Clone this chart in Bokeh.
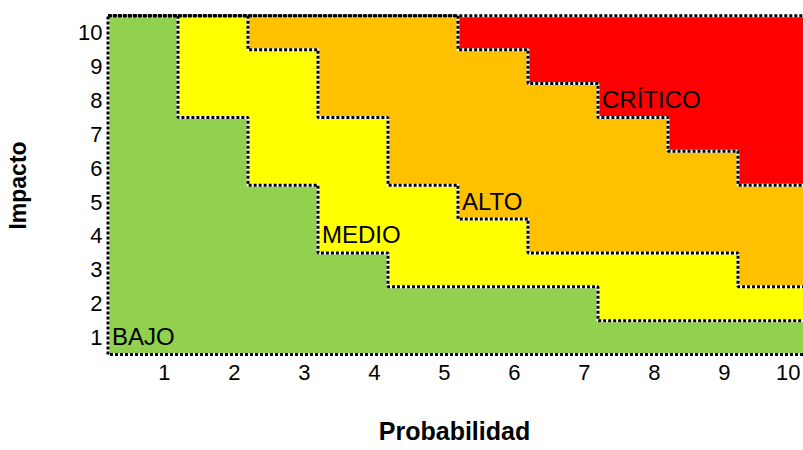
from bokeh.plotting import figure
from bokeh.models import ColumnDataSource, FixedTicker, Range1d
from bokeh.core.properties import value
from bokeh.embed import file_html
from bokeh.resources import INLINE

# ---- data ----
probabilidad = [1, 2, 3, 4, 5, 6, 7, 8, 9, 10]
impacto = [1, 2, 3, 4, 5, 6, 7, 8, 9, 10]
x_tick_labels = ["1", "2", "3", "4", "5", "6", "7", "8", "9", "10"]
y_tick_labels = ["1", "2", "3", "4", "5", "6", "7", "8", "9", "10"]
# highest impact row belonging to each level, per probability column
bajo_top = [10, 7, 5, 3, 2, 2, 2, 1, 1, 1]
medio_top = [10, 10, 9, 7, 5, 4, 3, 3, 3, 2]
alto_top = [10, 10, 10, 10, 10, 9, 8, 7, 6, 5]
niveles = ["BAJO", "MEDIO", "ALTO", "CRÍTICO"]
colores = ["#92D050", "#FFFF00", "#FFC000", "#FF0000"]
nivel_prob = [1, 4, 6, 8]      # column where each level's name is written
nivel_imp = [1, 4, 5, 8]       # row where each level's name is written

# ---- cells ----
cx, cy, cc = [], [], []
for i, p_ in enumerate(probabilidad):
    for r in impacto:
        if r <= bajo_top[i]:
            lvl = 0
        elif r <= medio_top[i]:
            lvl = 1
        elif r <= alto_top[i]:
            lvl = 2
        else:
            lvl = 3
        cx.append(p_)
        cy.append(r)
        cc.append(colores[lvl])
cells = ColumnDataSource(dict(x=cx, y=cy, color=cc))

PX_X = 70.0
PX_Y = 33.87
x0 = 0.5 - 2.5 / PX_X
x1 = x0 + 698 / PX_X
y0 = 0.5 - 3 / PX_Y
y1 = y0 + 344 / PX_Y

p = figure(width=803, height=450, output_backend="svg", toolbar_location=None,
           x_range=Range1d(x0, x1), y_range=Range1d(y0, y1),
           min_border_left=105, min_border_right=0, min_border_top=13,
           min_border_bottom=93)
p.outline_line_color = None
p.xgrid.visible = False
p.ygrid.visible = False
p.background_fill_color = "white"

p.rect(x="x", y="y", width=1, height=1, source=cells,
       fill_color="color", line_color="color", line_width=1)

# staircase boundaries
def stair(tops):
    xs, ys = [], []
    for i, p_ in enumerate(probabilidad):
        xs += [p_ - 0.5, p_ + 0.5]
        ys += [tops[i] + 0.5, tops[i] + 0.5]
    return xs, ys

paths_x, paths_y = [], []
for tops in (bajo_top, medio_top, alto_top):
    a, b = stair(tops)
    paths_x.append(a)
    paths_y.append(b)
lo, hi = probabilidad[0] - 0.5, probabilidad[-1] + 0.5
ilo, ihi = impacto[0] - 0.5, impacto[-1] + 0.5
paths_x.append([hi, lo, lo, hi])
paths_y.append([ilo, ilo, ihi, ihi])

p.multi_line(xs=paths_x, ys=paths_y, line_color="white", line_width=3)
p.multi_line(xs=paths_x, ys=paths_y, line_color="black", line_width=3,
             line_dash="3 2")

# level names
p.text(x=[v - 0.5 for v in nivel_prob], y=nivel_imp, text=niveles,
       text_font=value("Liberation Sans"), text_font_size="24px",
       text_color="black", text_baseline="middle", text_align="left",
       x_offset=4, y_offset=-1)

# axes
digit_w = 12.2
x_ticks = [v + 0.393 - len(s) * digit_w / 2 / PX_X for v, s in zip(probabilidad, x_tick_labels)]
p.xaxis.ticker = FixedTicker(ticks=x_ticks)
p.xaxis.major_label_overrides = {t: s for t, s in zip(x_ticks, x_tick_labels)}
p.yaxis.ticker = FixedTicker(ticks=impacto)
p.yaxis.major_label_overrides = {t: s for t, s in zip(impacto, y_tick_labels)}

for ax in (p.xaxis, p.yaxis):
    ax.axis_line_color = None
    ax.major_tick_line_color = None
    ax.minor_tick_line_color = None
    ax.major_tick_out = 0
    ax.major_tick_in = 0
    ax.major_label_text_font = "Liberation Sans"
    ax.major_label_text_font_size = "22px"
    ax.major_label_text_color = "black"
    ax.axis_label_text_font = "Liberation Sans"
    ax.axis_label_text_font_style = "bold"
    ax.axis_label_text_color = "black"

p.xaxis.axis_label = "Probabilidad"
p.yaxis.axis_label = "Impacto"
p.xaxis.major_label_standoff = 7
p.yaxis.major_label_standoff = 3
p.xaxis.axis_label_standoff = 34
p.yaxis.axis_label_standoff = 44
p.xaxis.axis_label_text_font_size = "25px"
p.yaxis.axis_label_text_font_size = "23px"

open("out.html", "w").write(file_html(p, INLINE))
